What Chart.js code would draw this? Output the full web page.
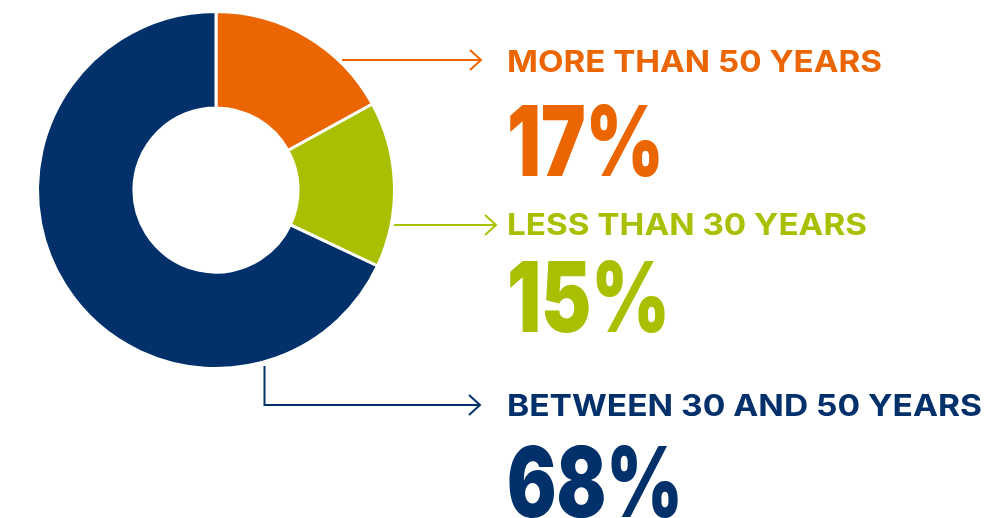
<!DOCTYPE html>
<html>
<head>
<meta charset="utf-8">
<script src="https://cdn.jsdelivr.net/npm/chart.js@4"></script>
<style>
  html, body { margin: 0; padding: 0; background: #fff; }
  #wrap { position: relative; width: 990px; height: 518px; }
</style>
</head>
<body>
<div id="wrap"><canvas id="grafico"></canvas></div>
<script>
// age groups and their share (%)
const categorias = ['MORE THAN 50 YEARS', 'LESS THAN 30 YEARS', 'BETWEEN 30 AND 50 YEARS'];
const porcentajes = [17, 15, 68];
const colores = ['#EB6500', '#A9C002', '#01306B'];

// where each callout sits: arrow path, label baseline, number baseline, widths
const callouts = [
    { path: [[342, 60], [481, 60]], labelY: 72, labelW: 375, numY: 176, numW: 157 },
    { path: [[394, 225], [496, 225]], labelY: 235, labelW: 360, numY: 332, numW: 163 },
    { path: [[264.5, 366], [264.5, 405], [480, 405]], labelY: 416, labelW: 475, numY: 517, numW: 176 }
];
const TEXT_X = 507;

function textoAjustado(ctx, txt, x, y, font, ancho) {
    ctx.font = font;
    const w = ctx.measureText(txt).width;
    ctx.save();
    ctx.translate(x, y);
    ctx.scale(ancho / w, 1);
    ctx.fillText(txt, 0, 0);
    ctx.restore();
}

const calloutsPlugin = {
    id: 'callouts',
    afterDraw(chart) {
        const ctx = chart.ctx;
        ctx.save();
        ctx.textBaseline = 'alphabetic';
        ctx.textAlign = 'left';
        callouts.forEach((c, i) => {
            const col = colores[i];
            // connector line
            ctx.strokeStyle = col;
            ctx.lineWidth = 2;
            ctx.lineJoin = 'miter';
            ctx.beginPath();
            c.path.forEach((p, k) => k === 0 ? ctx.moveTo(p[0], p[1]) : ctx.lineTo(p[0], p[1]));
            ctx.stroke();
            // open arrow head
            const tip = c.path[c.path.length - 1];
            ctx.beginPath();
            ctx.moveTo(tip[0] - 11, tip[1] - 10);
            ctx.lineTo(tip[0], tip[1]);
            ctx.lineTo(tip[0] - 11, tip[1] + 10);
            ctx.stroke();

            ctx.fillStyle = col;
            textoAjustado(ctx, categorias[i], TEXT_X, c.labelY, '700 30px Inter', c.labelW);
            textoAjustado(ctx, porcentajes[i] + '%', TEXT_X, c.numY, '900 97px Inter', c.numW);
        });
        ctx.restore();
    }
};

new Chart(document.getElementById('grafico'), {
    type: 'doughnut',
    data: {
        labels: categorias,
        datasets: [{
            data: porcentajes,
            backgroundColor: colores,
            borderColor: '#ffffff',
            borderWidth: 3,
            hoverOffset: 0
        }]
    },
    options: {
        responsive: true,
        maintainAspectRatio: false,
        animation: false,
        cutout: '46%',
        layout: { padding: { left: 36, top: 10, right: 594, bottom: 148 } },
        plugins: { legend: { display: false }, tooltip: { enabled: false } }
    },
    plugins: [calloutsPlugin]
});
</script>
</body>
</html>
